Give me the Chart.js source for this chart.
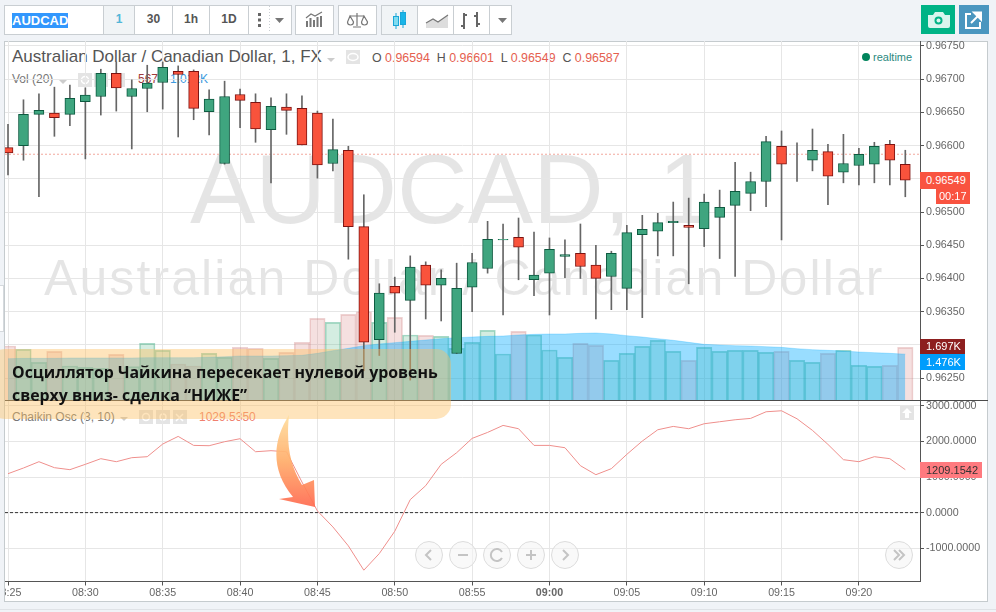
<!DOCTYPE html>
<html>
<head>
<meta charset="utf-8">
<script src="https://cdn.jsdelivr.net/npm/chart.js@4"></script>
<style>
  html, body { margin: 0; padding: 0; }
  body { width: 996px; height: 612px; background: #f0f3f7; overflow: hidden; position: relative;
         font-family: "Liberation Sans", Arial, sans-serif; }
  div, svg, canvas { position: absolute; }
  span { white-space: pre; }
  .seg { top: 5px; height: 28px; background: #fff; border: 1px solid #c9ced2; box-sizing: content-box;
         text-align: center; line-height: 27px; font-size: 12px; font-weight: bold; color: #555; }
  .tag { color: #fff; font-size: 11px; line-height: 16px; padding-left: 6px; box-sizing: border-box; white-space: pre; }
  .lbl { white-space: pre; font-size: 12px; color: #666; }
  .box { background: #e4e4e4; width: 14px; height: 14px; }
  .wm { white-space: pre; color: rgba(0,0,0,.1); }
</style>
</head>
<body>
<div style="left:4px;top:41px;width:984px;height:561px;background:#fff;border:1px solid #c5cbce;box-sizing:border-box"></div>
<div style="left:0;top:609px;width:996px;height:1px;background:#dfe2e6"></div>
<div style="left:0;top:285px;width:4px;height:47px;background:#fff;border:1px solid #d5d9dd;border-left:0;box-sizing:border-box"></div>

<!-- toolbar -->
<div class="seg" style="left:4px;width:98px;"></div>
<div style="left:12px;top:13px;height:15px;line-height:15px;background:#3297fd;color:#fff;font-size:13px;font-weight:bold;white-space:pre">AUDCAD</div>
<div class="seg" style="left:103px;width:30px;background:#f1f4f6;color:#52b6d8">1</div>
<div class="seg" style="left:134px;width:37px">30</div>
<div class="seg" style="left:172px;width:36px">1h</div>
<div class="seg" style="left:209px;width:38px">1D</div>
<div class="seg" style="left:248px;width:42px"></div>
<div class="seg" style="left:295px;width:37px"></div>
<div class="seg" style="left:338px;width:37px"></div>
<div class="seg" style="left:381px;width:35px;background:#f1f4f6"></div>
<div class="seg" style="left:417px;width:35px"></div>
<div class="seg" style="left:453px;width:35px"></div>
<div class="seg" style="left:489px;width:21px"></div>
<svg style="left:0;top:0;z-index:2" width="996" height="40">
  <g fill="#666"><rect x="258" y="13" width="3" height="3"/><rect x="258" y="18.5" width="3" height="3"/><rect x="258" y="24" width="3" height="3"/></g>
  <line x1="269.5" y1="6" x2="269.5" y2="33" stroke="#c9ced2" stroke-dasharray="1 2"/>
  <path d="M275 18h9l-4.500 5zM498 18h9l-4.500 5z" fill="#777"/>
  <g fill="#777"><rect x="306" y="21" width="2" height="6"/><rect x="309.500" y="18" width="2" height="9"/><rect x="313" y="20" width="2" height="7"/><rect x="316.500" y="17" width="2" height="10"/><rect x="320" y="16" width="2" height="11"/></g>
  <path d="M306 18l5-4 4 2 7-4" fill="none" stroke="#777" stroke-width="1.200"/>
  <g fill="none" stroke="#777" stroke-width="1.200"><path d="M350 16h14M357 13v13M353 27h8"/><path d="M350 16l-2.500 6a3 3 0 0 0 6 0zM364 16l-2.500 6a3 3 0 0 0 6 0z"/></g>
  <g stroke="#1ba6d8" stroke-width="1"><path d="M396 13v16M403 10v18"/><rect x="393.500" y="16.500" width="5" height="9" fill="#7fdcf0"/><rect x="400.500" y="12.500" width="5" height="12" fill="#19b5e8"/></g>
  <path d="M426 28v-5l7-4 5 3 10-7v13z" fill="#ddd"/><path d="M426 23l7-4 5 3 10-7" fill="none" stroke="#777" stroke-width="1.200"/>
  <path d="M464 13v16M461 26h3M464 15h3M477 12v15M474 16h3M477 24h3" fill="none" stroke="#666" stroke-width="2"/>
</svg>
<div style="left:921px;top:5px;width:34px;height:29px;background:#00b386"></div>
<div style="left:959px;top:5px;width:30px;height:29px;background:#4a96bf"></div>
<svg style="left:921px;top:5px;z-index:2" width="68" height="29">
  <path d="M7 10h5l2-3h8l2 3h5v11a2 2 0 0 1-2 2H9a2 2 0 0 1-2-2z" fill="#d8f5ee"/><circle cx="17.500" cy="15.500" r="4" fill="#00b386"/><circle cx="17.500" cy="15.500" r="2" fill="#d8f5ee"/>
  <path d="M50 9h-5v14h14v-6" fill="none" stroke="#fff" stroke-width="2"/><path d="M50 18l8-8M53 7.500h7v7z" stroke="#fff" stroke-width="2" fill="#fff"/>
</svg>

<!-- watermark and legends stay under the transparent canvases -->
<div class="wm" style="left:190px;top:134px;font-size:98px;line-height:110px">AUDCAD, 1</div>
<div class="wm" style="left:44px;top:248px;font-size:50px;line-height:60px;letter-spacing:2.100px">Australian Dollar / Canadian Dollar</div>
<div class="lbl" style="left:12px;top:47px;font-size:17px;line-height:20px;color:#555">Australian Dollar / Canadian Dollar, 1, FX</div>
<div class="box" style="left:346px;top:50px"></div>
<div class="lbl" style="left:372px;top:51px;color:#555;line-height:15px;font-size:12.400px">O <span style="color:#e5604f">0.96594</span>  H <span style="color:#e5604f">0.96601</span>  L <span style="color:#e5604f">0.96549</span>  C <span style="color:#e5604f">0.96587</span></div>
<div style="left:862px;top:53px;width:8px;height:8px;border-radius:4px;background:#00845c"></div>
<div class="lbl" style="left:873px;top:50px;line-height:14px;font-size:11px;color:#2b8a80">realtime</div>
<div class="lbl" style="left:12px;top:72px;line-height:15px;color:#777">Vol (20)</div>
<div class="box" style="left:78px;top:73px"></div><div class="box" style="left:94px;top:73px"></div><div class="box" style="left:111px;top:73px"></div>
<div class="lbl" style="left:138px;top:72px;line-height:15px;color:#a03a3a">567</div>
<div class="lbl" style="left:170px;top:72px;line-height:15px;color:#3d9be0">1.012K</div>
<div class="lbl" style="left:12px;top:410px;line-height:15px;color:#777">Chaikin Osc (3, 10)</div>
<div class="box" style="left:139px;top:410px"></div><div class="box" style="left:156px;top:410px"></div><div class="box" style="left:173px;top:410px"></div>
<div class="lbl" style="left:199px;top:410px;line-height:15px;color:#f0806e">1029.5350</div>
<!-- legend dropdown arrows and the small eye, gear and close glyphs -->
<svg style="left:0;top:41px" width="400" height="400">
  <path d="M327 17h8l-4 4zM59 39h8l-4 4zM120 376h8l-4 4z" fill="#ccc"/>
  <g fill="none" stroke="#fff" stroke-width="1.500">
    <ellipse cx="353" cy="16" rx="5" ry="3.500"/><circle cx="85" cy="39" r="3.500"/><circle cx="146" cy="376" r="3.500"/>
    <circle cx="101" cy="39" r="3"/><circle cx="163" cy="376" r="3"/>
    <path d="M114 35l7 7M121 35l-7 7M176 373l7 7M183 373l-7 7"/>
  </g>
</svg>

<canvas id="priceChart" width="983" height="359" style="left:5px;top:41px"></canvas>
<canvas id="oscChart" width="983" height="202" style="left:5px;top:400px"></canvas>

<div style="left:5px;top:400px;width:983px;height:1px;background:#4a4a4a"></div>
<div class="box" style="left:900px;top:406px;"></div>
<svg style="left:900px;top:406px" width="14" height="14"><path d="M7 2l5 5H9v5H5V7H2z" fill="#fff"/></svg>

<!-- value tags -->
<div class="tag" style="left:920px;top:172px;width:50px;height:17px;background:#f95340">0.96549</div>
<div class="tag" style="left:936px;top:189px;width:34px;height:15px;line-height:15px;padding-left:3px;background:#f95340">00:17</div>
<div class="tag" style="left:920px;top:339px;width:45px;height:15px;line-height:15px;background:#8d1f1f">1.697K</div>
<div class="tag" style="left:920px;top:354px;width:45px;height:16px;background:#009dfc">1.476K</div>
<div class="tag" style="left:920px;top:462px;width:62px;height:16px;background:#ff7a7f;color:#333">1209.1542</div>

<!-- navigation buttons -->
<svg style="left:0;top:535px" width="996" height="40">
  <g fill="#f5f5f5" fill-opacity=".6" stroke="#dcdcdc">
    <circle cx="429" cy="20" r="13.500"/><circle cx="463" cy="20" r="13.500"/><circle cx="497" cy="20" r="13.500"/>
    <circle cx="531" cy="20" r="13.500"/><circle cx="565" cy="20" r="13.500"/><circle cx="899" cy="20" r="13.500"/>
  </g>
  <g fill="none" stroke="#c4c4c4" stroke-width="2">
    <path d="M431 15l-5 5 5 5M458 20h10M526 20h10M531 15v10M563 15l5 5-5 5M894 15l5 5-5 5M899 15l5 5-5 5"/>
    <path d="M502 17a6 6 0 1 0 0 6"/>
  </g>
</svg>

<!-- annotation -->
<div style="left:-10px;top:349px;width:461px;height:70px;border-radius:15px;background:rgba(253,190,95,.42)"></div>
<div style="left:12px;top:361px;font-family:'Open Sans';font-weight:700;font-size:15.900px;line-height:22.500px;color:#111;white-space:pre">Осциллятор Чайкина пересекает нулевой уровень
сверху вниз- сделка “НИЖЕ”</div>
<svg style="left:260px;top:410px;opacity:.92" width="70" height="110">
  <defs><linearGradient id="arrowFill" x1="0" y1="0" x2="0" y2="1"><stop offset="0" stop-color="#ffdf9f"/><stop offset=".5" stop-color="#ffad6a"/><stop offset="1" stop-color="#ff6a50"/></linearGradient></defs>
  <path d="M29 5C12 32 11 60 33 87L19 89 55 97 54 70 42 75C30 55 26 35 29 5Z" fill="url(#arrowFill)"/>
</svg>

<script>
const candleColors = { up: '#3fa57f', down: '#f9533c', upEdge: '#0d5a40', downEdge: '#7d1210', wick: '#666' };

const timeLabels = ['08:25', '08:30', '08:35', '08:40', '08:45', '08:50', '08:55', '09:00', '09:05', '09:10', '09:15', '09:20'];
const priceTicks = [0.9675, 0.967, 0.9665, 0.966, 0.9655, 0.965, 0.9645, 0.964, 0.9635, 0.963, 0.9625];
const oscTicks = [3000, 2000, 1000, 0, -1000];
const lastClose = 0.96587;

const opens = [0.96597,0.96600,0.96647,0.96649,0.96647,0.96666,0.96674,0.96709,0.96674,0.96686,0.96695,0.96712,0.96712,0.96651,0.96573,0.96677,0.96665,0.96624,0.96658,0.96656,
  0.96649,0.96573,0.96593,0.96478,0.96308,0.96388,0.96367,0.96420,0.96390,0.96287,0.96387,0.96415,0.96458,0.96462,0.96398,0.96408,0.96433,0.96438,0.96420,0.96403,
  0.96385,0.96466,0.96471,0.96484,0.96480,0.96475,0.96492,0.96510,0.96528,0.96546,0.96599,0.96575,0.96578,0.96591,0.96560,0.96570,0.96572,0.96602,0.96572];
const highs = [0.96632,0.96669,0.96678,0.96688,0.96691,0.96687,0.96715,0.96726,0.96699,0.96721,0.96726,0.96720,0.96714,0.96684,0.96697,0.96685,0.96678,0.96672,0.96678,0.96675,
  0.96652,0.96640,0.96599,0.96526,0.96392,0.96402,0.96434,0.96425,0.96413,0.96423,0.96438,0.96486,0.96482,0.96491,0.96470,0.96461,0.96458,0.96482,0.96450,0.96441,
  0.96480,0.96495,0.96498,0.96515,0.96521,0.96527,0.96533,0.96575,0.96560,0.96614,0.96622,0.96604,0.96625,0.96602,0.96617,0.96596,0.96605,0.96608,0.96593];
const lows = [0.96556,0.96578,0.96523,0.96614,0.96630,0.96580,0.96646,0.96652,0.96595,0.96651,0.96655,0.96613,0.96639,0.96616,0.96572,0.96627,0.96605,0.96544,0.96617,0.96601,
  0.96551,0.96562,0.96429,0.96261,0.96284,0.96319,0.96247,0.96339,0.96336,0.96287,0.96350,0.96408,0.96345,0.96398,0.96374,0.96345,0.96401,0.96400,0.96339,0.96353,
  0.96353,0.96341,0.96434,0.96434,0.96392,0.96448,0.96430,0.96403,0.96502,0.96508,0.96458,0.96546,0.96562,0.96511,0.96544,0.96541,0.96544,0.96541,0.96523];
const closes = [0.96589,0.96647,0.96653,0.96642,0.96671,0.96676,0.96709,0.96687,0.96686,0.96694,0.96718,0.96707,0.96656,0.96670,0.96674,0.96668,0.96625,0.96659,0.96653,0.96601,
  0.96571,0.96594,0.96478,0.96304,0.96378,0.96378,0.96417,0.96390,0.96400,0.96385,0.96424,0.96459,0.96459,0.96447,0.96405,0.96444,0.96436,0.96418,0.96400,0.96438,
  0.96469,0.96474,0.96484,0.96486,0.96477,0.96515,0.96507,0.96531,0.96546,0.96606,0.96572,0.96575,0.96593,0.96554,0.96573,0.96587,0.96599,0.96578,0.96548];

const volumes = [1738,1631,1212,1567,1094,1052,1019,1470,1073,1824,1599,1159,1094,1502,1373,1695,1663,1341,1534,1856,
  2629,2500,2758,2843,2500,2661,2092,2082,2049,1663,1856,2243,1481,2210,2092,1610,1373,1824,1760,1277,
  1502,1728,1921,1567,1277,1695,1567,1599,1599,1534,1567,1277,1212,1502,1599,1116,1084,1116,1697];
const volumeMa = [1330,1341,1341,1341,1352,1352,1352,1352,1352,1363,1363,1363,1363,1373,1395,1416,1416,1416,1427,1438,
  1502,1588,1663,1749,1803,1846,1888,1931,1974,2006,2028,2049,2060,2092,2114,2125,2125,2146,2157,2125,
  2071,2028,1974,1921,1856,1792,1770,1749,1738,1717,1695,1652,1620,1599,1577,1545,1524,1502,1476];
const chaikin = [1095,1255,1432,1264,1208,1358,1517,1432,1545,1573,1929,2144,1891,1882,1994,2079,1713,1742,1713,861,
  47,-403,-936,-1620,-1152,-524,365,758,1358,1685,2088,2256,2453,2360,1891,1891,1826,1320,1067,1236,
  1639,2013,2331,2425,2360,2500,2556,2612,2650,2837,2865,2640,2313,1919,1489,1432,1573,1517,1208];

const xMin = -0.194, xMax = 58.95;
const isUp = i => closes[i] >= opens[i];
const timeTicks = timeLabels.map((t, i) => i * 5);
const axisFont = { family: '"Liberation Sans"', size: 10.7 };

// tick labels may run past the plot area, so the scales must not ask for room
const noPadding = s => { s.paddingLeft = s.paddingRight = s.paddingTop = s.paddingBottom = 0; };

const xScale = (showLabels, height) => ({
  type: 'linear', min: xMin, max: xMax, offset: false,
  afterBuildTicks: s => { s.ticks = timeTicks.map(v => ({ value: v })); },
  afterFit: s => { s.height = height; noPadding(s); },
  grid: { color: '#e6e6e6', drawTicks: showLabels, tickLength: 4, tickColor: '#555', offset: false },
  border: { color: '#555' },
  ticks: {
    display: showLabels, autoSkip: false, maxRotation: 0, padding: 1, color: '#666',
    font: c => ({ ...axisFont, weight: c.index === 7 ? 'bold' : 'normal' }),
    callback: (v, i) => timeLabels[i]
  }
});

const yScale = (min, max, tickValues, digits) => ({
  position: 'right', min, max,
  afterBuildTicks: s => { s.ticks = tickValues.map(v => ({ value: v })); },
  afterFit: s => { s.width = 68; noPadding(s); },
  grid: { color: '#e6e6e6', tickLength: 4, tickColor: '#555' },
  border: { color: '#555' },
  ticks: { autoSkip: false, padding: 2, color: '#666', font: axisFont, callback: v => v.toFixed(digits) }
});

const baseOptions = {
  responsive: false, animation: false, devicePixelRatio: 1,
  layout: { autoPadding: false, padding: 0 },
  plugins: { legend: { display: false }, tooltip: { enabled: false } }
};

new Chart(document.getElementById('priceChart'), {
  data: {
    datasets: [
      {
        type: 'bar', yAxisID: 'vol', order: 6, grouped: false, barThickness: 15.5, borderWidth: 1,
        data: volumes.map((v, i) => ({ x: i, y: v })),
        backgroundColor: volumes.map((v, i) => isUp(i) ? 'rgba(83,185,135,.25)' : 'rgba(214,130,130,.25)'),
        borderColor: volumes.map((v, i) => isUp(i) ? 'rgba(60,170,130,.45)' : 'rgba(200,110,110,.3)')
      },
      {
        type: 'line', yAxisID: 'vol', order: 5, pointRadius: 0, borderWidth: 1, tension: 0,
        borderColor: 'rgba(0,170,255,.25)', backgroundColor: 'rgba(0,170,255,.4)', fill: 'origin',
        data: volumeMa.map((v, i) => ({ x: i, y: v }))
      },
      {
        type: 'line', yAxisID: 'y', order: 4, pointRadius: 0, borderWidth: 1, borderDash: [2, 2],
        borderColor: '#f2a79c',
        data: [{ x: xMin, y: lastClose }, { x: xMax, y: lastClose }]
      },
      {
        type: 'bar', yAxisID: 'y', order: 3, grouped: false, barThickness: 1,
        backgroundColor: candleColors.wick,
        data: highs.map((h, i) => ({ x: i, y: [lows[i], h] }))
      },
      {
        type: 'bar', yAxisID: 'y', order: 2, grouped: false, barThickness: 10, borderWidth: 1, borderSkipped: false,
        backgroundColor: opens.map((o, i) => isUp(i) ? candleColors.up : candleColors.down),
        borderColor: opens.map((o, i) => isUp(i) ? candleColors.upEdge : candleColors.downEdge),
        data: opens.map((o, i) => ({ x: i, y: [o, closes[i]] }))
      }
    ]
  },
  options: {
    ...baseOptions,
    scales: {
      x: xScale(false, 0),
      y: yScale(0.96217, 0.967575, priceTicks, 5),
      vol: { display: false, min: 0, max: 11560 }
    }
  }
});

new Chart(document.getElementById('oscChart'), {
  type: 'line',
  data: {
    datasets: [
      {
        order: 2, pointRadius: 0, borderWidth: 1, borderDash: [3, 2], borderColor: '#333',
        data: [{ x: xMin, y: 0 }, { x: xMax, y: 0 }]
      },
      {
        order: 1, pointRadius: 0, borderWidth: 1, tension: 0, borderColor: '#ef8f8c',
        data: chaikin.map((v, i) => ({ x: i, y: v }))
      }
    ]
  },
  options: {
    ...baseOptions,
    scales: {
      x: xScale(true, 20.5),
      y: yScale(-1938, 3168, oscTicks, 4)
    }
  }
});
</script>
</body>
</html>
